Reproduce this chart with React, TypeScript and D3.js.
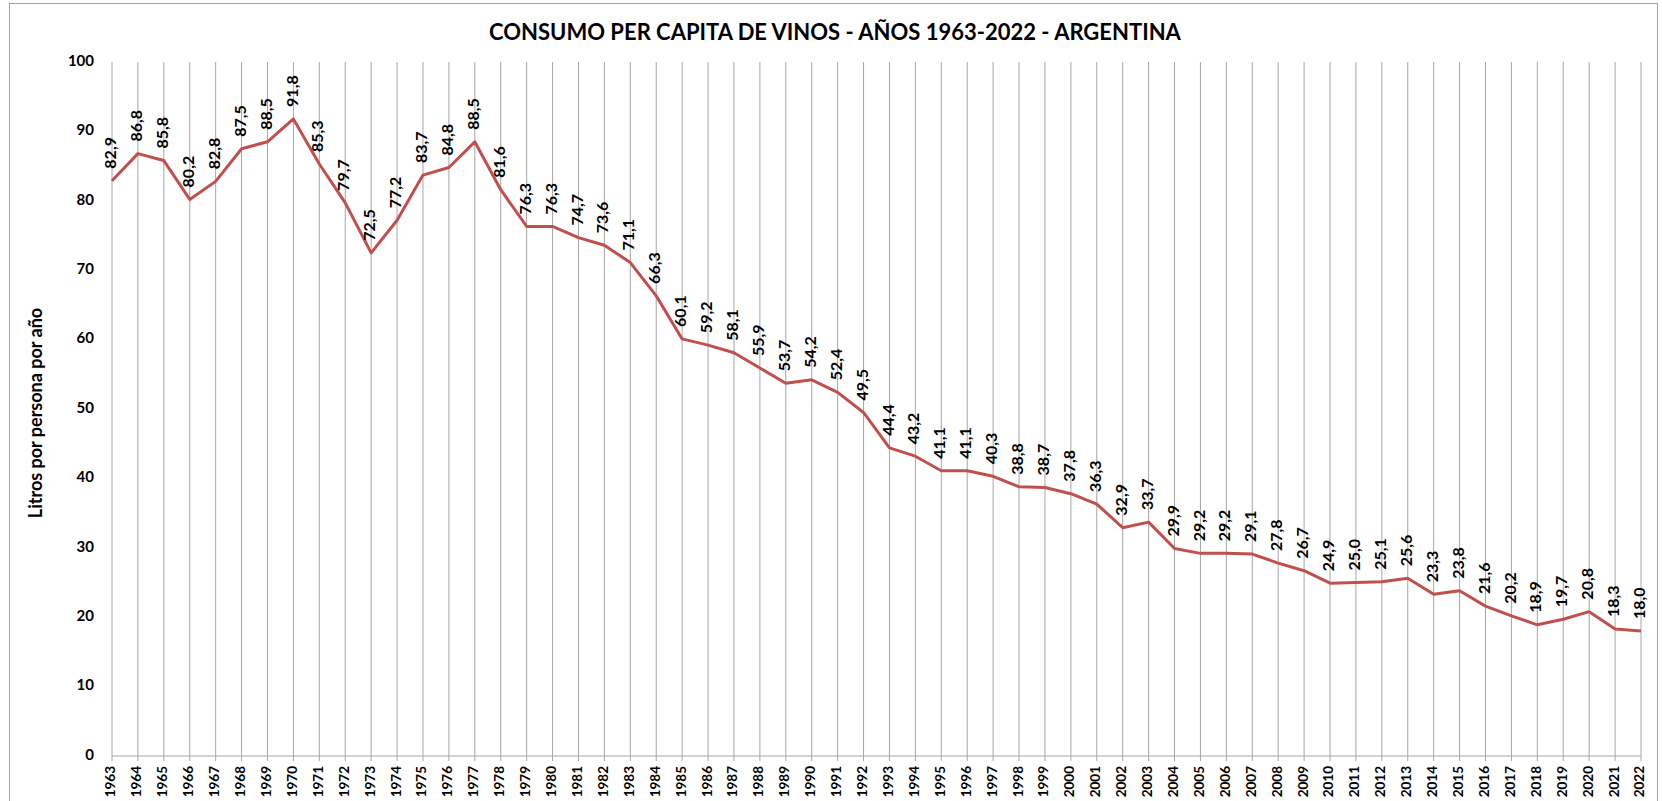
import React from "react";
import * as d3 from "d3";

const years: string[] = [
  "1963","1964","1965","1966","1967","1968","1969","1970","1971","1972",
  "1973","1974","1975","1976","1977","1978","1979","1980","1981","1982",
  "1983","1984","1985","1986","1987","1988","1989","1990","1991","1992",
  "1993","1994","1995","1996","1997","1998","1999","2000","2001","2002",
  "2003","2004","2005","2006","2007","2008","2009","2010","2011","2012",
  "2013","2014","2015","2016","2017","2018","2019","2020","2021","2022",
];
const consumo: number[] = [
  82.9, 86.8, 85.8, 80.2, 82.8, 87.5, 88.5, 91.8, 85.3, 79.7,
  72.5, 77.2, 83.7, 84.8, 88.5, 81.6, 76.3, 76.3, 74.7, 73.6,
  71.1, 66.3, 60.1, 59.2, 58.1, 55.9, 53.7, 54.2, 52.4, 49.5,
  44.4, 43.2, 41.1, 41.1, 40.3, 38.8, 38.7, 37.8, 36.3, 32.9,
  33.7, 29.9, 29.2, 29.2, 29.1, 27.8, 26.7, 24.9, 25.0, 25.1,
  25.6, 23.3, 23.8, 21.6, 20.2, 18.9, 19.7, 20.8, 18.3, 18.0,
];
const yTicks: number[] = [0, 10, 20, 30, 40, 50, 60, 70, 80, 90, 100];
const title = "CONSUMO PER CAPITA DE VINOS - AÑOS 1963-2022 - ARGENTINA";
const yTitle = "Litros por persona por año";

const W = 1662;
const H = 801;
const FONT = "Lato, 'Open Sans', sans-serif";

export default function App() {
  const left = 112;
  const right = 1641;
  const top = 62;
  const bottom = 756;
  const x = d3.scalePoint<string>().domain(years).range([left, right]);
  const y = d3.scaleLinear().domain([0, 100]).range([bottom, top]);
  const line = d3
    .line<number>()
    .x((_, i) => x(years[i]) as number)
    .y((d) => y(d));
  const fmt = (v: number) => v.toFixed(1).replace(".", ",");

  return (
    <svg
      width={W}
      height={H}
      style={{ position: "absolute", left: 0, top: 0, background: "#fff" }}
      fontFamily={FONT}
    >
      <rect x={0} y={0} width={W} height={H} fill="#fff" />
      <rect x={9.5} y={3.5} width={1648} height={H + 10} fill="none" stroke="#a0a0a0" strokeWidth={1} />
      <text x={835} y={40} textAnchor="middle" fontSize={22} fontWeight="bold" fill="#000">
        {title}
      </text>
      <text
        transform={`translate(37,${(top + bottom) / 2 + 4}) rotate(-90)`}
        textAnchor="middle"
        dominantBaseline="middle"
        fontSize={18}
        fontWeight="bold"
        fill="#000"
      >
        {yTitle}
      </text>
      {yTicks.map((t) => (
        <text
          key={t}
          x={94}
          y={y(t)}
          textAnchor="end"
          dominantBaseline="middle"
          fontSize={15}
          fontWeight="bold"
          fill="#000"
        >
          {t}
        </text>
      ))}
      {years.map((yr) => (
        <line
          key={"g" + yr}
          x1={x(yr)}
          x2={x(yr)}
          y1={top}
          y2={bottom + 5}
          stroke="#a6a6a6"
          strokeWidth={1}
        />
      ))}
      <line x1={left} x2={right} y1={bottom} y2={bottom} stroke="#a6a6a6" strokeWidth={1} />
      {years.map((yr) => (
        <text
          key={"l" + yr}
          transform={`translate(${x(yr)},${bottom + 10}) rotate(-90)`}
          textAnchor="end"
          dominantBaseline="middle"
          fontSize={13.5}
          fontWeight="bold"
          fill="#000"
        >
          {yr}
        </text>
      ))}
      <path d={line(consumo) || ""} fill="none" stroke="#c0504d" strokeWidth={3} strokeLinejoin="round" />
      {consumo.map((v, i) => (
        <text
          key={"d" + i}
          transform={`translate(${x(years[i])},${y(v) - 12}) rotate(-90)`}
          textAnchor="start"
          dominantBaseline="middle"
          fontSize={16}
          fontWeight="bold"
          fill="#000"
        >
          {fmt(v)}
        </text>
      ))}
    </svg>
  );
}
